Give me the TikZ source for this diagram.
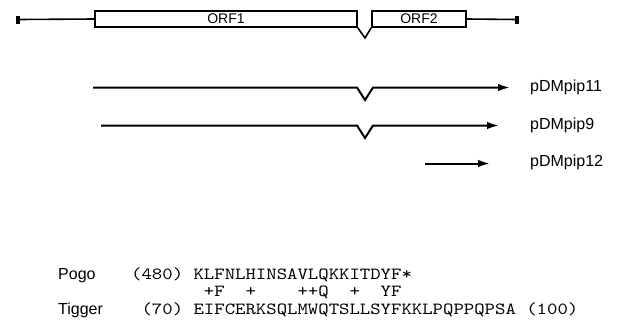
\documentclass[tikz,border=0pt]{standalone}
\usepackage{fontspec}
\setmainfont{Liberation Sans}
\newfontfamily\seqfont{lmmono10-regular.otf}[FakeStretch=1.165]
\usetikzlibrary{arrows.meta}
\begin{document}
\begin{tikzpicture}[x=1pt,y=-1pt,
  gene/.style={line width=1.6pt},
  orfbox/.style={draw, line width=1.5pt, inner sep=0pt, minimum height=16pt,
    font=\fontsize{14}{16}\selectfont},
  endcap/.style={fill, inner sep=0pt, minimum width=4pt, minimum height=8pt},
  clone/.style={line width=2pt, line join=miter, -{Latex[length=12pt,width=7.5pt]}},
  lab/.style={anchor=base west, inner sep=0pt, font=\fontsize{16}{18}\selectfont},
  seq/.style={anchor=base west, inner sep=0pt, font=\seqfont\fontsize{17}{20}\selectfont}]
\useasboundingbox (0,0) rectangle (618,322);
% gene map
\node[endcap] (endL) at (18,19.5) {};
\node[endcap] (endR) at (517,19.5) {};
\node[orfbox, minimum width=262pt] (orf1) at (226,19) {ORF1};
\node[orfbox, minimum width=94pt] (orf2) at (419,19) {ORF2};
\coordinate (gv) at (365,38);
\draw[gene] (endL.center) -- (orf1.west);
\draw[gene] (orf2.east) -- (endR.center);
\draw[gene, line join=miter] (orf1.south east) -- (gv) -- (orf2.south west);
% clones
\coordinate (a11) at (93,87.5);
\coordinate (b11) at (510,87.5);
\coordinate (v11l) at (357,87.5);
\coordinate (v11) at (365,100);
\coordinate (v11r) at (373,87.5);
\draw[clone] (a11) -- (v11l) -- (v11) -- (v11r) -- (b11);
\coordinate (a9) at (101,125.5);
\coordinate (b9) at (499,125.5);
\coordinate (v9l) at (357,125.5);
\coordinate (v9) at (365,138);
\coordinate (v9r) at (373,125.5);
\draw[clone] (a9) -- (v9l) -- (v9) -- (v9r) -- (b9);
\coordinate (a12) at (425,163.5);
\coordinate (b12) at (490,163.5);
\draw[clone] (a12) -- (b12);
\node[lab] (l11) at (530,91) {pDMpip11};
\node[lab] (l9) at (530,129) {pDMpip9};
\node[lab] (l12) at (530,166) {pDMpip12};
% alignment
\node[lab] (pogo) at (58,279) {Pogo};
\node[lab] (tigger) at (58,314) {Tigger};
\node[seq] (s1) at (131,279) {(480)~KLFNLHINSAVLQKKITDYF*};
\node[seq] (s2) at (131,296) {~~~~~~~+F~~+~~~~++Q~~+~~YF};
\node[seq] (s3) at (131,314) {~(70)~EIFCERKSQLMWQTSLLSYFKKLPQPPQPSA~(100)};
\end{tikzpicture}
\end{document}
